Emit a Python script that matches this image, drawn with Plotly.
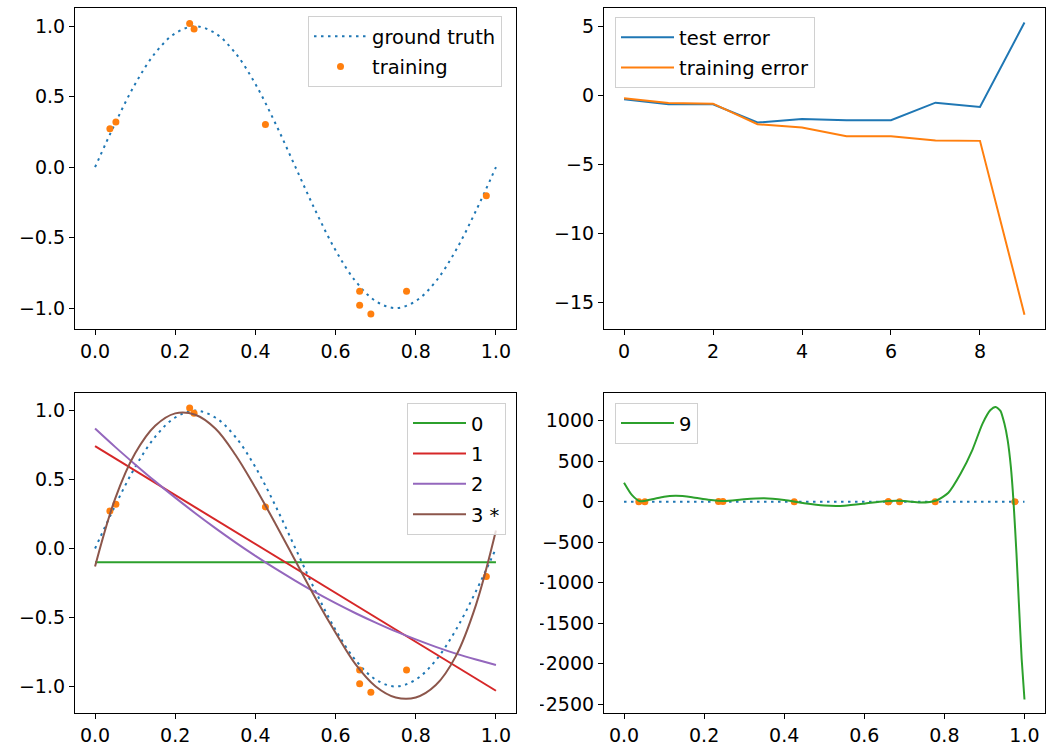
import plotly.graph_objects as go

W, H = 1046, 750

# ---------------- data ----------------
truth_x = [0.0, 0.05, 0.1, 0.15, 0.2, 0.25, 0.3, 0.35, 0.4, 0.45, 0.5,
           0.55, 0.6, 0.65, 0.7, 0.75, 0.8, 0.85, 0.9, 0.95, 1.0]
truth_y = [0.0, 0.31, 0.59, 0.81, 0.95, 1.0, 0.95, 0.81, 0.59, 0.31, 0.0,
           -0.31, -0.59, -0.81, -0.95, -1.0, -0.95, -0.81, -0.59, -0.31, 0.0]

train_x = [0.037, 0.052, 0.236, 0.247, 0.425, 0.660, 0.660, 0.688, 0.777, 0.976]
train_y = [0.272, 0.321, 1.019, 0.980, 0.302, -0.881, -0.980, -1.041, -0.881, -0.203]

degrees = [0, 1, 2, 3, 4, 5, 6, 7, 8, 9]
test_error = [-0.27, -0.63, -0.63, -1.95, -1.69, -1.78, -1.78, -0.51, -0.82, 5.3]
training_error = [-0.19, -0.53, -0.58, -2.07, -2.31, -2.94, -2.94, -3.25, -3.28, -15.88]

fit_x = truth_x
line_x = [0.0, 1.0]
fit0_y = [-0.10, -0.10]
fit1_y = [0.742, -1.031]
fit2_y = [0.870, 0.737, 0.610, 0.487, 0.369, 0.256, 0.148, 0.045, -0.053, -0.146, -0.234,
          -0.318, -0.396, -0.469, -0.537, -0.601, -0.659, -0.713, -0.762, -0.805, -0.844]
fit3_y = [-0.13, 0.36, 0.69, 0.89, 0.98, 0.97, 0.87, 0.68, 0.44, 0.18, -0.09,
          -0.36, -0.61, -0.84, -1.00, -1.08, -1.08, -0.99, -0.78, -0.41, 0.13]

fit9_x = [0.0, 0.02, 0.04, 0.07, 0.1, 0.13, 0.17, 0.21, 0.25, 0.3, 0.35, 0.4, 0.45,
          0.5, 0.55, 0.6, 0.65, 0.7, 0.74, 0.78, 0.81, 0.84, 0.87, 0.895, 0.915,
          0.928, 0.94, 0.95, 0.958, 0.966, 0.9725, 0.98, 0.986, 0.993, 1.0]
fit9_y = [234, 80, 5, 30, 62, 72, 55, 25, 8, 30, 42, 20, -20, -48, -50, -25, 5, 8,
          -10, 15, 110, 340, 640, 960, 1130, 1168, 1120, 960, 760, 430, 10, -640,
          -1250, -1940, -2440]

legend_names_fits = ["0", "1", "2", "3 *"]

# ---------------- colours ----------------
C0, C1, C2, C3, C4, C5 = "#1f77b4", "#ff7f0e", "#2ca02c", "#d62728", "#9467bd", "#8c564b"
FONT = dict(family="DejaVu Sans", size=19, color="#000000")
LEGFONT = dict(family="DejaVu Sans", size=19.5, color="#000000")
DOT = "2.5px,4.5px"

fig = go.Figure()

def px_x(p):
    return p / W

def px_y(p):
    return 1 - p / H

# panel 1
fig.add_trace(go.Scatter(x=truth_x, y=truth_y, mode="lines", name="ground truth",
                         line=dict(color=C0, width=2, dash=DOT, shape="spline"),
                         xaxis="x", yaxis="y", legend="legend", legendgroup="a"))
fig.add_trace(go.Scatter(x=train_x, y=train_y, mode="markers", name="training",
                         marker=dict(color=C1, size=7), xaxis="x", yaxis="y",
                         legend="legend", legendgroup="b"))

# panel 2
fig.add_trace(go.Scatter(x=degrees, y=test_error, mode="lines", name="test error",
                         line=dict(color=C0, width=2), xaxis="x2", yaxis="y2",
                         legend="legend2", legendgroup="c"))
fig.add_trace(go.Scatter(x=degrees, y=training_error, mode="lines", name="training error",
                         line=dict(color=C1, width=2), xaxis="x2", yaxis="y2",
                         legend="legend2", legendgroup="d"))

# panel 3
fig.add_trace(go.Scatter(x=truth_x, y=truth_y, mode="lines", showlegend=False,
                         line=dict(color=C0, width=2, dash=DOT, shape="spline"),
                         xaxis="x3", yaxis="y3"))
fig.add_trace(go.Scatter(x=train_x, y=train_y, mode="markers", showlegend=False,
                         marker=dict(color=C1, size=7), xaxis="x3", yaxis="y3"))
fig.add_trace(go.Scatter(x=line_x, y=fit0_y, mode="lines", name=legend_names_fits[0],
                         line=dict(color=C2, width=2), xaxis="x3", yaxis="y3",
                         legend="legend3", legendgroup="e"))
fig.add_trace(go.Scatter(x=line_x, y=fit1_y, mode="lines", name=legend_names_fits[1],
                         line=dict(color=C3, width=2), xaxis="x3", yaxis="y3",
                         legend="legend3", legendgroup="f"))
fig.add_trace(go.Scatter(x=fit_x, y=fit2_y, mode="lines", name=legend_names_fits[2],
                         line=dict(color=C4, width=2, shape="spline"), xaxis="x3", yaxis="y3",
                         legend="legend3", legendgroup="g"))
fig.add_trace(go.Scatter(x=fit_x, y=fit3_y, mode="lines", name=legend_names_fits[3],
                         line=dict(color=C5, width=2, shape="spline"), xaxis="x3", yaxis="y3",
                         legend="legend3", legendgroup="h"))

# panel 4
fig.add_trace(go.Scatter(x=truth_x, y=truth_y, mode="lines", showlegend=False,
                         line=dict(color=C0, width=2, dash=DOT), xaxis="x4", yaxis="y4"))
fig.add_trace(go.Scatter(x=train_x, y=train_y, mode="markers", showlegend=False,
                         marker=dict(color=C1, size=7), xaxis="x4", yaxis="y4"))
fig.add_trace(go.Scatter(x=fit9_x, y=fit9_y, mode="lines", name="9",
                         line=dict(color=C2, width=2, shape="spline", smoothing=0.6),
                         xaxis="x4", yaxis="y4", legend="legend4", legendgroup="i"))

# ---------------- axes ----------------
LEFT = (75, 516)
RIGHT = (604, 1044.5)
TOP = (7.8, 330)
BOT = (394, 715)

def axis_common(**kw):
    d = dict(showline=True, linecolor="#000000", linewidth=1.2, mirror=True,
             ticks="outside", ticklen=5, tickwidth=1.2, tickcolor="#000000",
             showgrid=False, zeroline=False, tickfont=FONT, fixedrange=True)
    d.update(kw)
    return d

frac_ticks = [0.0, 0.2, 0.4, 0.6, 0.8, 1.0]

fig.update_layout(
    xaxis=axis_common(domain=[px_x(LEFT[0]), px_x(LEFT[1])], range=[-0.05, 1.05],
                      tickvals=frac_ticks, tickformat=".1f", anchor="y"),
    yaxis=axis_common(domain=[px_y(TOP[1]), px_y(TOP[0])], range=[-1.149, 1.131],
                      tickvals=[-1.0, -0.5, 0.0, 0.5, 1.0], tickformat=".1f", anchor="x"),
    xaxis2=axis_common(domain=[px_x(RIGHT[0]), px_x(RIGHT[1])], range=[-0.45, 9.45],
                       tickvals=[0, 2, 4, 6, 8], anchor="y2"),
    yaxis2=axis_common(domain=[px_y(TOP[1]), px_y(TOP[0])], range=[-16.93, 6.37],
                       tickvals=[-15, -10, -5, 0, 5], anchor="x2"),
    xaxis3=axis_common(domain=[px_x(LEFT[0]), px_x(LEFT[1])], range=[-0.05, 1.05],
                       tickvals=frac_ticks, tickformat=".1f", anchor="y3"),
    yaxis3=axis_common(domain=[px_y(BOT[1]), px_y(BOT[0])], range=[-1.193, 1.128],
                       tickvals=[-1.0, -0.5, 0.0, 0.5, 1.0], tickformat=".1f", anchor="x3"),
    xaxis4=axis_common(domain=[px_x(RIGHT[0]), px_x(RIGHT[1])], range=[-0.05, 1.05],
                       tickvals=frac_ticks, tickformat=".1f", anchor="y4"),
    yaxis4=axis_common(domain=[px_y(BOT[1]), px_y(BOT[0])], range=[-2608, 1341],
                       tickvals=[-2500, -2000, -1500, -1000, -500, 0, 500, 1000], anchor="x4"),
)

LEG = dict(bgcolor="rgba(255,255,255,0.8)", bordercolor="#d0d0d0", borderwidth=1,
           font=LEGFONT, xanchor="left", yanchor="top", itemwidth=53,
           traceorder="grouped", tracegroupgap=2)

fig.update_layout(
    legend=dict(LEG, x=px_x(308), y=px_y(16)),
    legend2=dict(LEG, x=px_x(615), y=px_y(17)),
    legend3=dict(LEG, x=px_x(407), y=px_y(404)),
    legend4=dict(LEG, x=px_x(615), y=px_y(404)),
)

# clip bottom-right tick labels at x=540 as in the reference
fig.add_shape(type="rect", xref="paper", yref="paper", layer="above",
              x0=px_x(518), x1=px_x(540), y0=px_y(725), y1=px_y(385),
              fillcolor="#ffffff", line=dict(width=0))

fig.update_layout(
    width=W, height=H, autosize=False,
    margin=dict(l=0, r=0, t=0, b=0),
    paper_bgcolor="#ffffff", plot_bgcolor="#ffffff",
    font=FONT, showlegend=True,
)

fig.write_html("out.html", config={"displayModeBar": False})
